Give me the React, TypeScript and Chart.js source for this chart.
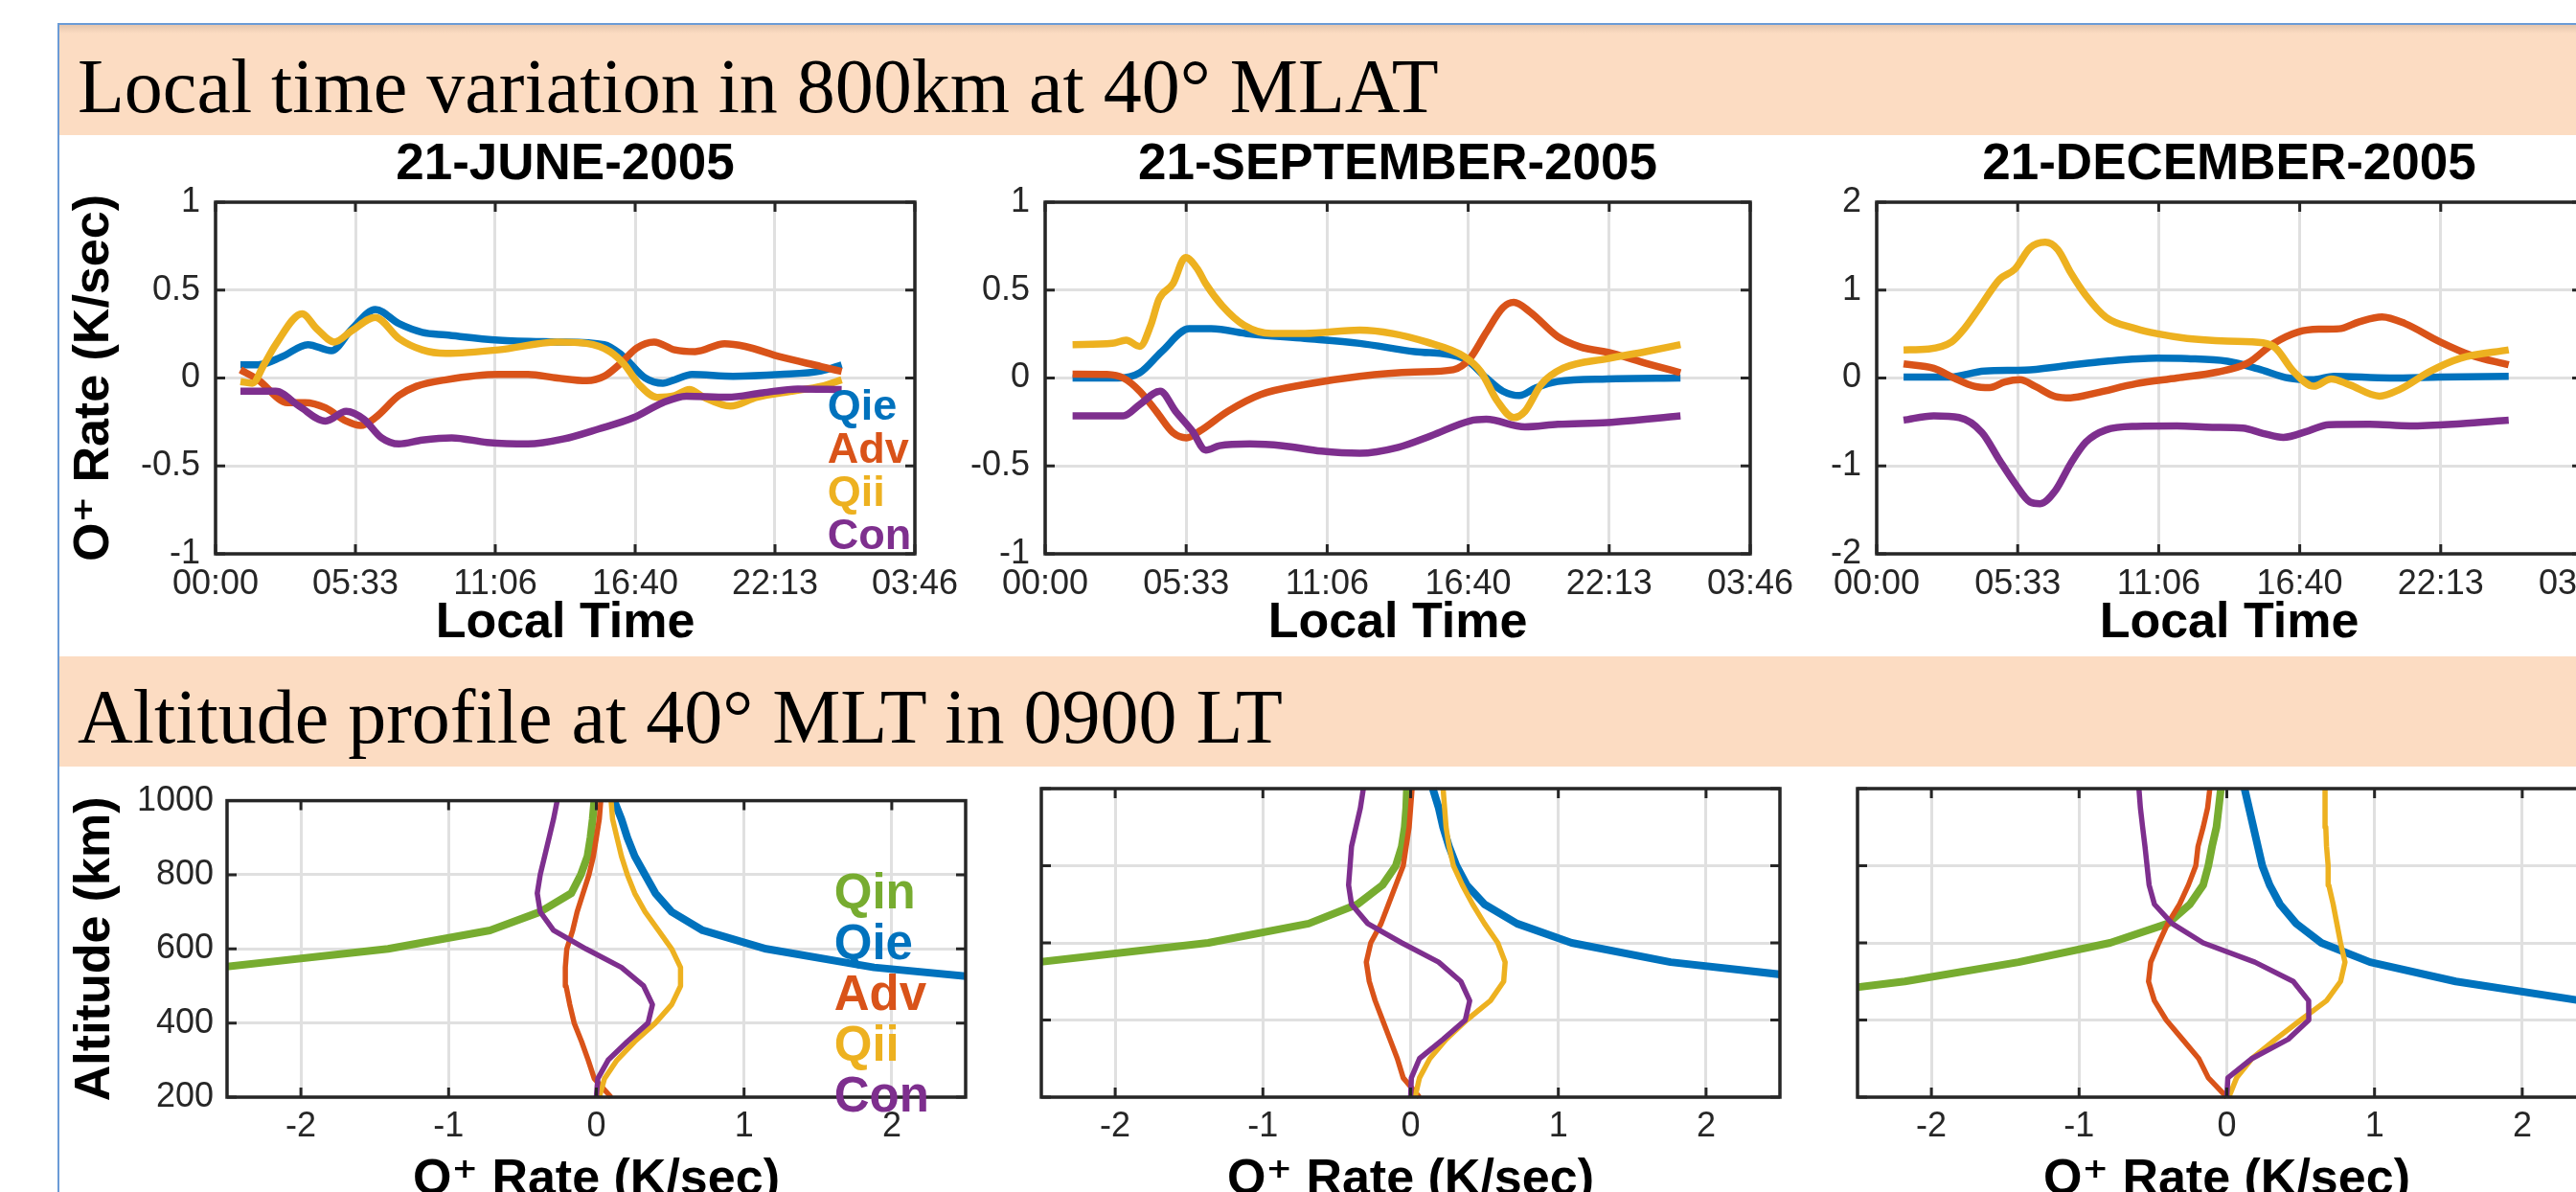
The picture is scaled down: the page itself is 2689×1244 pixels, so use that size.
import React, { useEffect, useRef } from 'react';
import { Chart, registerables } from 'chart.js';

Chart.register(...registerables);

// ---------------- text ----------------
const BANNER_TOP = 'Local time variation in 800km at 40° MLAT';
const BANNER_BOTTOM = 'Altitude profile at 40° MLT in 0900 LT';
const DATE_TITLES = ['21-JUNE-2005', '21-SEPTEMBER-2005', '21-DECEMBER-2005'];
const LT_AXIS_TITLE = 'Local Time';
const RATE_AXIS_TITLE = 'O⁺ Rate (K/sec)';
const ALT_AXIS_TITLE = 'Altitude (km)';

// ---------------- series names / colours ----------------
const TOP_SERIES = ['Qie', 'Adv', 'Qii', 'Con'];
const BOTTOM_SERIES = ['Qin', 'Qie', 'Adv', 'Qii', 'Con'];
const SERIES_COLORS: Record<string, string> = {
  Qin: '#77AC30',
  Qie: '#0072BD',
  Adv: '#D95319',
  Qii: '#EDB120',
  Con: '#7E2F8E',
};

// ---------------- tick values / labels ----------------
const LT_TICK_HOURS = [0, 5.5556, 11.1111, 16.6667, 22.2222, 27.7778];
const LT_TICK_LABELS = ['00:00', '05:33', '11:06', '16:40', '22:13', '03:46'];
const RATE_TICKS_SMALL = [-1, -0.5, 0, 0.5, 1];
const RATE_TICKS_SMALL_LABELS = ['-1', '-0.5', '0', '0.5', '1'];
const RATE_TICKS_LARGE = [-2, -1, 0, 1, 2];
const RATE_TICKS_LARGE_LABELS = ['-2', '-1', '0', '1', '2'];
const ALT_TICKS = [200, 400, 600, 800, 1000];
const ALT_TICK_LABELS = ['200', '400', '600', '800', '1000'];

// ---------------- local time variation (hours, K/sec) ----------------
const JUN_QIE_T = [0.99, 1.69, 2.62, 3.67, 4.6, 5.42, 6.35, 7.28, 8.21, 9.15, 11.24, 13.57, 15.44, 16.14, 17.07, 17.77, 18.24, 18.93, 20.56, 22.43, 24.06, 24.87];
const JUN_QIE_V = [0.075, 0.075, 0.12, 0.19, 0.155, 0.28, 0.39, 0.31, 0.26, 0.245, 0.215, 0.205, 0.19, 0.13, 0.0, -0.03, -0.01, 0.02, 0.01, 0.02, 0.04, 0.075];
const JUN_ADV_T = [0.99, 1.69, 2.86, 3.56, 4.37, 5.19, 5.77, 6.35, 7.28, 7.98, 9.15, 11.24, 12.41, 13.57, 14.74, 15.44, 16.14, 16.72, 17.42, 18.24, 19.05, 20.22, 21.03, 22.43, 24.06, 24.87];
const JUN_ADV_V = [0.047, -0.01, -0.14, -0.14, -0.17, -0.245, -0.27, -0.225, -0.1, -0.047, -0.01, 0.02, 0.02, 0.0, -0.015, 0.01, 0.09, 0.17, 0.205, 0.16, 0.15, 0.195, 0.18, 0.12, 0.065, 0.037];
const JUN_QII_T = [0.99, 1.46, 1.92, 2.39, 3.44, 4.02, 4.72, 5.42, 6.35, 7.28, 8.21, 9.15, 11.24, 13.57, 14.74, 15.67, 16.25, 16.84, 17.54, 18.24, 18.82, 19.4, 20.45, 21.5, 22.9, 24.06, 24.87];
const JUN_QII_V = [-0.02, -0.03, 0.075, 0.19, 0.365, 0.28, 0.205, 0.27, 0.345, 0.225, 0.16, 0.14, 0.16, 0.205, 0.197, 0.15, 0.075, -0.04, -0.11, -0.1, -0.065, -0.11, -0.16, -0.11, -0.075, -0.047, -0.01];
const JUN_CON_T = [0.99, 2.39, 3.32, 4.37, 5.19, 5.89, 6.59, 7.28, 8.21, 9.38, 10.78, 12.41, 13.81, 15.21, 16.61, 17.77, 18.7, 20.33, 21.73, 23.13, 24.87];
const JUN_CON_V = [-0.075, -0.075, -0.16, -0.245, -0.19, -0.235, -0.34, -0.375, -0.353, -0.34, -0.366, -0.375, -0.347, -0.29, -0.225, -0.14, -0.103, -0.109, -0.084, -0.062, -0.066];

const SEP_QIE_T = [1.08, 2.86, 3.73, 4.59, 5.68, 6.54, 8.06, 10.23, 12.39, 14.56, 16.51, 17.38, 18.03, 18.68, 19.33, 20.2, 22.15, 25.03];
const SEP_QIE_V = [0, 0, 0.03, 0.15, 0.28, 0.28, 0.25, 0.225, 0.197, 0.15, 0.11, 0.0, -0.075, -0.1, -0.056, -0.02, -0.005, 0.0];
const SEP_ADV_T = [1.08, 2.43, 3.08, 3.73, 4.38, 5.03, 5.57, 6.11, 7.19, 8.49, 10.23, 12.39, 14.56, 16.08, 16.73, 17.38, 18.03, 18.46, 19.11, 20.2, 21.06, 22.36, 23.66, 25.03];
const SEP_ADV_V = [0.022, 0.02, 0.0, -0.075, -0.19, -0.31, -0.34, -0.3, -0.19, -0.094, -0.037, 0.01, 0.034, 0.047, 0.11, 0.26, 0.4, 0.43, 0.375, 0.235, 0.178, 0.14, 0.084, 0.03];
const SEP_QII_T = [1.08, 2.64, 3.19, 3.73, 4.16, 4.49, 5.03, 5.53, 6.0, 6.33, 6.98, 7.84, 8.93, 10.23, 12.39, 13.69, 14.99, 16.51, 17.16, 17.81, 18.46, 18.9, 19.54, 20.41, 22.15, 23.66, 25.03];
const SEP_QII_V = [0.19, 0.197, 0.215, 0.18, 0.3, 0.45, 0.535, 0.685, 0.62, 0.535, 0.41, 0.3, 0.253, 0.253, 0.272, 0.253, 0.206, 0.122, 0.037, -0.13, -0.225, -0.19, -0.037, 0.056, 0.11, 0.15, 0.19];
const SEP_CON_T = [1.08, 3.08, 3.73, 4.53, 5.14, 5.79, 6.33, 6.87, 8.06, 9.36, 10.88, 12.39, 13.91, 15.21, 16.73, 17.38, 18.9, 20.2, 22.15, 25.03];
const SEP_CON_V = [-0.215, -0.215, -0.15, -0.075, -0.19, -0.3, -0.41, -0.385, -0.375, -0.385, -0.416, -0.428, -0.394, -0.328, -0.244, -0.235, -0.278, -0.263, -0.253, -0.215];

const DEC_QIE_T = [1.06, 2.85, 4.25, 5.84, 7.44, 9.04, 11.03, 12.23, 13.82, 15.02, 16.22, 17.22, 18.01, 20.21, 22.2, 24.9];
const DEC_QIE_V = [0.01, 0.01, 0.08, 0.09, 0.14, 0.19, 0.225, 0.22, 0.19, 0.105, 0.0, -0.02, 0.02, 0.0, 0.01, 0.02];
const DEC_ADV_T = [1.06, 2.25, 3.05, 3.85, 4.45, 5.05, 5.65, 6.24, 7.04, 7.64, 8.64, 10.23, 11.83, 13.43, 14.62, 15.62, 16.62, 17.42, 18.21, 19.01, 19.91, 20.81, 22.2, 23.4, 24.9];
const DEC_ADV_V = [0.16, 0.11, 0.0, -0.094, -0.11, -0.045, -0.02, -0.094, -0.21, -0.225, -0.17, -0.064, 0.0, 0.068, 0.17, 0.39, 0.525, 0.555, 0.56, 0.64, 0.695, 0.62, 0.41, 0.26, 0.15];
const DEC_QII_T = [1.06, 2.05, 2.95, 3.45, 4.05, 4.85, 5.45, 6.04, 6.64, 7.14, 7.64, 8.24, 9.04, 10.23, 11.03, 12.23, 13.82, 15.22, 15.72, 16.42, 17.22, 17.91, 18.61, 19.81, 20.61, 21.8, 23.0, 24.9];
const DEC_QII_V = [0.32, 0.33, 0.41, 0.56, 0.8, 1.125, 1.24, 1.48, 1.545, 1.46, 1.2, 0.94, 0.69, 0.56, 0.505, 0.45, 0.42, 0.4, 0.34, 0.075, -0.094, -0.01, -0.075, -0.206, -0.13, 0.075, 0.225, 0.32];
const DEC_CON_T = [1.06, 2.25, 3.25, 4.15, 4.85, 5.45, 6.04, 6.44, 7.04, 7.64, 8.24, 9.04, 10.23, 11.83, 13.23, 14.42, 15.22, 16.02, 17.02, 17.81, 19.41, 21.0, 23.0, 24.9];
const DEC_CON_V = [-0.48, -0.43, -0.45, -0.62, -0.94, -1.2, -1.41, -1.43, -1.28, -0.975, -0.73, -0.59, -0.55, -0.545, -0.56, -0.57, -0.63, -0.675, -0.6, -0.53, -0.525, -0.545, -0.52, -0.48];

// ---------------- altitude profiles (km, K/sec) ----------------
const ALTITUDES = [200, 250, 300, 350, 400, 450, 500, 550, 600, 650, 700, 750, 800, 850, 900, 950, 1000];

const JUN_P_QIN = [null, null, null, null, null, null, null, -2.55, -1.41, -0.72, -0.38, -0.17, -0.105, -0.06, -0.04, -0.025, -0.014];
const JUN_P_QIE = [null, null, null, null, null, null, 3.2, 1.88, 1.15, 0.72, 0.51, 0.4, 0.33, 0.26, 0.21, 0.17, 0.12];
const JUN_P_ADV = [0.1, -0.014, -0.055, -0.1, -0.15, -0.18, -0.205, -0.21, -0.2, -0.16, -0.13, -0.09, -0.05, -0.02, 0, 0.02, 0.03];
const JUN_P_QII = [0.02, 0.055, 0.14, 0.26, 0.4, 0.51, 0.57, 0.57, 0.51, 0.42, 0.33, 0.26, 0.21, 0.17, 0.14, 0.11, 0.1];
const JUN_P_CON = [0, 0.01, 0.08, 0.21, 0.35, 0.38, 0.32, 0.17, -0.07, -0.29, -0.38, -0.4, -0.38, -0.35, -0.32, -0.29, -0.265];

const SEP_P_QIN = [null, null, null, null, null, null, null, -2.52, -1.37, -0.69, -0.36, -0.19, -0.1, -0.06, -0.04, -0.03, -0.025];
const SEP_P_QIE = [null, null, null, null, null, null, 2.93, 1.76, 1.09, 0.72, 0.5, 0.38, 0.31, 0.26, 0.22, 0.19, 0.15];
const SEP_P_ADV = [0.06, -0.05, -0.09, -0.14, -0.19, -0.24, -0.28, -0.3, -0.27, -0.2, -0.15, -0.1, -0.05, -0.03, -0.01, 0, 0.01];
const SEP_P_QII = [0.03, 0.06, 0.13, 0.24, 0.38, 0.54, 0.63, 0.64, 0.59, 0.5, 0.42, 0.35, 0.29, 0.26, 0.24, 0.23, 0.22];
const SEP_P_CON = [0, 0.005, 0.06, 0.22, 0.37, 0.4, 0.34, 0.19, -0.06, -0.29, -0.4, -0.42, -0.41, -0.4, -0.37, -0.34, -0.32];

const DEC_P_QIN = [null, null, null, null, null, -3.25, -2.18, -1.41, -0.79, -0.4, -0.25, -0.16, -0.125, -0.1, -0.07, -0.055, -0.04];
const DEC_P_QIE = [null, null, null, null, 3.5, 2.4, 1.55, 0.97, 0.64, 0.47, 0.36, 0.29, 0.24, 0.21, 0.18, 0.15, 0.12];
const DEC_P_ADV = [0, -0.125, -0.19, -0.3, -0.41, -0.49, -0.53, -0.515, -0.46, -0.4, -0.32, -0.26, -0.21, -0.195, -0.16, -0.13, -0.115];
const DEC_P_QII = [0.014, 0.066, 0.17, 0.33, 0.5, 0.675, 0.77, 0.8, 0.77, 0.745, 0.72, 0.69, 0.686, 0.675, 0.67, 0.665, 0.665];
const DEC_P_CON = [0, 0.007, 0.17, 0.415, 0.555, 0.554, 0.45, 0.19, -0.16, -0.37, -0.49, -0.526, -0.54, -0.554, -0.57, -0.585, -0.595];

// ---------------- styling ----------------
const FONT = '"Liberation Sans", Arial, Helvetica, "DejaVu Sans", sans-serif';
const SERIF = '"Liberation Serif", "Times New Roman", Times, serif';
const AXIS_COLOR = '#262626';
const GRID_COLOR = '#e0e0e0';
const LABEL_COLOR = '#262626';
const TITLE_COLOR = '#000000';
const PEACH = '#fcdcc2';
const FRAME_BLUE = '#6b9bd6';

type Pt = { x: number; y: number };

function timePoints(t: number[], v: number[]): Pt[] {
  const n = Math.min(t.length, v.length);
  const out: Pt[] = [];
  for (let i = 0; i < n; i++) out.push({ x: t[i], y: v[i] });
  return out;
}

function profilePoints(alt: number[], v: (number | null)[]): Pt[] {
  const out: Pt[] = [];
  for (let i = 0; i < alt.length; i++) {
    const val = v[i];
    if (val !== null && val !== undefined) out.push({ x: val, y: alt[i] });
  }
  return out;
}

function topDatasets(series: Pt[][]) {
  return series.map((data, i) => ({
    label: TOP_SERIES[i],
    data,
    borderColor: SERIES_COLORS[TOP_SERIES[i]],
    backgroundColor: SERIES_COLORS[TOP_SERIES[i]],
    borderWidth: 7.5,
    pointRadius: 0,
    fill: false,
    cubicInterpolationMode: 'monotone',
    borderJoinStyle: 'round',
    borderCapStyle: 'butt',
    order: series.length - i,
  }));
}

function bottomDatasets(series: Pt[][]) {
  return series.map((data, i) => {
    const name = BOTTOM_SERIES[i];
    return {
      label: name,
      data,
      borderColor: SERIES_COLORS[name],
      backgroundColor: SERIES_COLORS[name],
      borderWidth: name === 'Qin' || name === 'Qie' ? 8 : 5.5,
      pointRadius: 0,
      fill: false,
      tension: 0,
      borderJoinStyle: 'round',
      borderCapStyle: 'butt',
      clip: { left: 0, right: 0, top: 6, bottom: 6 },
      order: series.length - i,
    };
  });
}

type Legend = { items: string[]; x: number; y: number; spacing: number; size: number };

type Spec = {
  left: number; top: number; width: number; height: number;
  padTop: number; padRight: number;
  yAxisWidth: number; xAxisHeight: number;
  title?: string; titlePadBottom?: number;
  xMin: number; xMax: number; xTicks: number[]; xLabels: string[];
  xTitle: string; xTitlePadBottom: number; xTickPad: number;
  yMin: number; yMax: number; yTicks: number[]; yLabels: string[]; showYLabels: boolean;
  yTitle?: string; yTitlePadTop?: number; yTickPad: number;
  indexAxis: 'x' | 'y';
  datasets: any[];
  legend?: Legend;
};

function buildConfig(s: Spec): any {
  const framePlugin = {
    id: 'matlabFrame',
    afterDatasetsDraw(chart: any) {
      const { ctx, chartArea: a } = chart;
      const xs = chart.scales.x;
      const ys = chart.scales.y;
      ctx.save();
      ctx.strokeStyle = AXIS_COLOR;
      ctx.lineCap = 'butt';
      ctx.lineWidth = 3;
      const L = 10;
      ctx.beginPath();
      xs.ticks.forEach((t: any) => {
        const px = xs.getPixelForValue(t.value);
        ctx.moveTo(px, a.bottom);
        ctx.lineTo(px, a.bottom - L);
        ctx.moveTo(px, a.top);
        ctx.lineTo(px, a.top + L);
      });
      ys.ticks.forEach((t: any) => {
        const py = ys.getPixelForValue(t.value);
        ctx.moveTo(a.left, py);
        ctx.lineTo(a.left + L, py);
        ctx.moveTo(a.right, py);
        ctx.lineTo(a.right - L, py);
      });
      ctx.stroke();
      ctx.lineWidth = 3.5;
      ctx.strokeRect(a.left, a.top, a.right - a.left, a.bottom - a.top);
      if (s.legend) {
        const lg = s.legend;
        const x0 = xs.getPixelForValue(lg.x);
        const y0 = ys.getPixelForValue(lg.y);
        ctx.font = `bold ${lg.size}px ${FONT}`;
        ctx.textAlign = 'left';
        ctx.textBaseline = 'alphabetic';
        lg.items.forEach((name, i) => {
          ctx.fillStyle = SERIES_COLORS[name];
          ctx.fillText(name, x0, y0 + i * lg.spacing);
        });
      }
      ctx.restore();
    },
  };

  return {
    type: 'line',
    data: { datasets: s.datasets },
    options: {
      animation: false,
      responsive: false,
      maintainAspectRatio: false,
      devicePixelRatio: 1,
      indexAxis: s.indexAxis,
      events: [],
      layout: { padding: { left: 0, right: s.padRight, top: s.padTop, bottom: 0 } },
      plugins: {
        legend: { display: false },
        tooltip: { enabled: false },
        title: s.title
          ? {
              display: true,
              text: s.title,
              fullSize: false,
              color: TITLE_COLOR,
              font: { family: FONT, size: 53, weight: 'bold' },
              padding: { top: 0, bottom: s.titlePadBottom ?? 0 },
            }
          : { display: false },
      },
      scales: {
        x: {
          type: 'linear',
          position: 'bottom',
          min: s.xMin,
          max: s.xMax,
          afterBuildTicks: (scale: any) => {
            scale.ticks = s.xTicks.map((v) => ({ value: v }));
          },
          afterFit: (scale: any) => {
            scale.height = s.xAxisHeight;
          },
          grid: { color: GRID_COLOR, lineWidth: 3, drawTicks: false },
          border: { display: false },
          ticks: {
            autoSkip: false,
            maxRotation: 0,
            minRotation: 0,
            padding: s.xTickPad,
            color: LABEL_COLOR,
            font: { family: FONT, size: 36 },
            callback: (_v: any, i: number) => s.xLabels[i],
          },
          title: {
            display: true,
            text: s.xTitle,
            color: TITLE_COLOR,
            font: { family: FONT, size: 52, weight: 'bold' },
            padding: { top: 0, bottom: s.xTitlePadBottom },
          },
        },
        y: {
          type: 'linear',
          position: 'left',
          min: s.yMin,
          max: s.yMax,
          afterBuildTicks: (scale: any) => {
            scale.ticks = s.yTicks.map((v) => ({ value: v }));
          },
          afterFit: (scale: any) => {
            scale.width = s.yAxisWidth;
          },
          grid: { color: GRID_COLOR, lineWidth: 3, drawTicks: false },
          border: { display: false },
          ticks: {
            display: s.showYLabels,
            padding: s.yTickPad,
            color: LABEL_COLOR,
            font: { family: FONT, size: 36 },
            callback: (_v: any, i: number) => s.yLabels[i],
          },
          title: s.yTitle
            ? {
                display: true,
                text: s.yTitle,
                color: TITLE_COLOR,
                font: { family: FONT, size: 52, weight: 'bold' },
                padding: { top: s.yTitlePadTop ?? 0, bottom: 0 },
              }
            : { display: false },
        },
      },
    },
    plugins: [framePlugin],
  };
}

// ---------------- panel specs ----------------
const TOP_COMMON = {
  top: 141, height: 544, padTop: 0, padRight: 70, xAxisHeight: 107,
  titlePadBottom: 6.4, xTitlePadBottom: 2.8, xTickPad: 10.4, yTickPad: 16,
  xMin: 0, xMax: 27.7778, xTicks: LT_TICK_HOURS, xLabels: LT_TICK_LABELS, xTitle: LT_AXIS_TITLE,
  showYLabels: true, indexAxis: 'x' as const,
};

const BOTTOM_COMMON = {
  top: 800, height: 500, padTop: 23, padRight: 70, xAxisHeight: 155,
  xTitlePadBottom: 36.8, xTickPad: 9.4, yTickPad: 14,
  xMin: -2.5, xMax: 2.5, xTicks: RATE_TICKS_LARGE, xLabels: RATE_TICKS_LARGE_LABELS, xTitle: RATE_AXIS_TITLE,
  yMin: 200, yMax: 1000, yTicks: ALT_TICKS, yLabels: ALT_TICK_LABELS,
  indexAxis: 'y' as const,
};

const PANELS: Spec[] = [
  {
    ...TOP_COMMON,
    left: 62, width: 963, yAxisWidth: 163,
    title: DATE_TITLES[0],
    yMin: -1, yMax: 1, yTicks: RATE_TICKS_SMALL, yLabels: RATE_TICKS_SMALL_LABELS,
    yTitle: RATE_AXIS_TITLE, yTitlePadTop: 5.8,
    datasets: topDatasets([
      timePoints(JUN_QIE_T, JUN_QIE_V),
      timePoints(JUN_ADV_T, JUN_ADV_V),
      timePoints(JUN_QII_T, JUN_QII_V),
      timePoints(JUN_CON_T, JUN_CON_V),
    ]),
    legend: { items: TOP_SERIES, x: 24.31, y: -0.237, spacing: 45, size: 45 },
  },
  {
    ...TOP_COMMON,
    left: 961, width: 936, yAxisWidth: 130,
    title: DATE_TITLES[1],
    yMin: -1, yMax: 1, yTicks: RATE_TICKS_SMALL, yLabels: RATE_TICKS_SMALL_LABELS,
    datasets: topDatasets([
      timePoints(SEP_QIE_T, SEP_QIE_V),
      timePoints(SEP_ADV_T, SEP_ADV_V),
      timePoints(SEP_QII_T, SEP_QII_V),
      timePoints(SEP_CON_T, SEP_CON_V),
    ]),
  },
  {
    ...TOP_COMMON,
    left: 1829, width: 936, yAxisWidth: 130,
    title: DATE_TITLES[2],
    yMin: -2, yMax: 2, yTicks: RATE_TICKS_LARGE, yLabels: RATE_TICKS_LARGE_LABELS,
    datasets: topDatasets([
      timePoints(DEC_QIE_T, DEC_QIE_V),
      timePoints(DEC_ADV_T, DEC_ADV_V),
      timePoints(DEC_QII_T, DEC_QII_V),
      timePoints(DEC_CON_T, DEC_CON_V),
    ]),
  },
  {
    ...BOTTOM_COMMON,
    left: 62, width: 1016, yAxisWidth: 175, showYLabels: true,
    yTitle: ALT_AXIS_TITLE, yTitlePadTop: 6.8,
    datasets: bottomDatasets([
      profilePoints(ALTITUDES, JUN_P_QIN),
      profilePoints(ALTITUDES, JUN_P_QIE),
      profilePoints(ALTITUDES, JUN_P_ADV),
      profilePoints(ALTITUDES, JUN_P_QII),
      profilePoints(ALTITUDES, JUN_P_CON),
    ]),
    legend: { items: BOTTOM_SERIES, x: 1.61, y: 709, spacing: 53, size: 51 },
  },
  {
    ...BOTTOM_COMMON,
    left: 957, width: 971, yAxisWidth: 130, showYLabels: false,
    datasets: bottomDatasets([
      profilePoints(ALTITUDES, SEP_P_QIN),
      profilePoints(ALTITUDES, SEP_P_QIE),
      profilePoints(ALTITUDES, SEP_P_ADV),
      profilePoints(ALTITUDES, SEP_P_QII),
      profilePoints(ALTITUDES, SEP_P_CON),
    ]),
  },
  {
    ...BOTTOM_COMMON,
    left: 1809, width: 971, yAxisWidth: 130, showYLabels: false,
    datasets: bottomDatasets([
      profilePoints(ALTITUDES, DEC_P_QIN),
      profilePoints(ALTITUDES, DEC_P_QIE),
      profilePoints(ALTITUDES, DEC_P_ADV),
      profilePoints(ALTITUDES, DEC_P_QII),
      profilePoints(ALTITUDES, DEC_P_CON),
    ]),
  },
];

function Panel({ spec }: { spec: Spec }) {
  const ref = useRef<HTMLCanvasElement>(null);
  useEffect(() => {
    if (!ref.current) return;
    const chart = new Chart(ref.current, buildConfig(spec));
    return () => chart.destroy();
  }, [spec]);
  return (
    <canvas
      ref={ref}
      width={spec.width}
      height={spec.height}
      style={{ position: 'absolute', left: spec.left, top: spec.top, width: spec.width, height: spec.height }}
    />
  );
}

export default function App() {
  const bannerText: React.CSSProperties = {
    position: 'absolute',
    left: 81,
    fontFamily: SERIF,
    fontSize: 80,
    lineHeight: 1,
    whiteSpace: 'nowrap',
    color: '#000',
  };
  return (
    <div style={{ position: 'fixed', left: 0, top: 0, width: 2689, height: 1244, overflow: 'hidden', background: '#ffffff' }}>
      <div style={{ position: 'absolute', left: 62, top: 26, width: 2627, height: 115, background: `linear-gradient(to bottom, #e4c6ae 0px, ${PEACH} 9px, ${PEACH} 100%)` }} />
      <div style={{ position: 'absolute', left: 62, top: 685, width: 2627, height: 115, background: PEACH }} />
      <div style={{ position: 'absolute', left: 60, top: 24, width: 2629, height: 2, background: FRAME_BLUE }} />
      <div style={{ position: 'absolute', left: 60, top: 24, width: 2, height: 1220, background: FRAME_BLUE }} />
      <div style={{ ...bannerText, top: 50 }}>{BANNER_TOP}</div>
      <div style={{ ...bannerText, top: 708 }}>{BANNER_BOTTOM}</div>
      {PANELS.map((p, i) => (
        <Panel key={i} spec={p} />
      ))}
    </div>
  );
}
